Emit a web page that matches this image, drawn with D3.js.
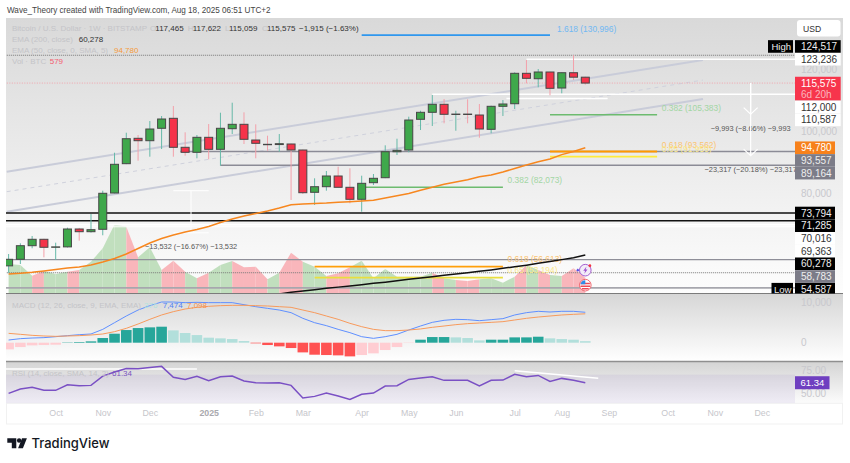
<!DOCTYPE html>
<html>
<head>
<meta charset="utf-8">
<script src="https://cdn.jsdelivr.net/npm/d3@7"></script>
<style>
  html, body { margin: 0; padding: 0; background: #fff; }
  svg { display: block; }
  text { font-family: "Liberation Sans", Arial, sans-serif; }
  .domain { display: none; }
  .tick line { display: none; }
</style>
</head>
<body>
<svg id="chart" width="850" height="463"></svg>
<script>
// Weekly candles, first bar Sep 9 2024, last bar Aug 18 2025
const firstWeek = new Date(Date.UTC(2024, 8, 9));
const lastWeek = new Date(Date.UTC(2025, 7, 18));

const opens = [56800, 58910, 63280, 65340, 62770, 62900, 68650, 67780, 68555, 80225, 89650, 97810, 97040, 101030, 104240, 94920, 93310, 98130, 94270, 100900, 102310, 97260, 95880, 95800, 95980, 94050, 80450, 82250, 85690, 82060, 78200, 83540, 85140, 93500, 94050, 103920, 106170, 108740, 105530, 105600, 105300, 100700, 108100, 108930, 118710, 116970, 119130, 113980, 118900, 117465];
const highs = [60610, 64050, 66400, 65500, 64250, 69070, 69000, 73470, 80960, 93180, 99610, 98870, 103370, 104980, 108200, 99740, 98870, 102410, 106040, 109260, 106170, 102310, 98650, 99190, 96100, 94200, 84950, 87300, 88680, 88170, 85790, 86330, 95560, 97680, 104760, 106680, 111730, 110450, 106680, 110350, 108840, 108300, 110120, 119030, 122980, 120090, 119200, 119000, 124517, 117622];
const lows = [54587, 57400, 62450, 59550, 58690, 62700, 64890, 67500, 66630, 80100, 89500, 90610, 91900, 94370, 91900, 92220, 91380, 91060, 89000, 99190, 95980, 91380, 93820, 93500, 77980, 79900, 76370, 80965, 82000, 76910, 74210, 82800, 85000, 92440, 93310, 100480, 101770, 102630, 100250, 102630, 98000, 99420, 104980, 107230, 115490, 114210, 111640, 112280, 116550, 115059];
const closes = [58910, 63280, 65340, 62770, 62900, 68650, 67780, 68430, 80130, 89450, 97680, 97040, 100800, 104020, 94920, 93310, 98130, 94270, 101030, 102310, 97490, 96200, 95800, 96075, 94050, 80320, 82250, 85690, 82060, 78200, 83340, 84950, 93500, 93950, 103690, 106170, 108740, 105530, 105600, 105500, 100800, 108100, 108840, 118710, 117100, 119130, 113890, 118900, 117465, 115575];

const ema50 = [54180, 54410, 54730, 55150, 55630, 56110, 56430, 57070, 58040, 59170, 60610, 62380, 64150, 65600, 66720, 67690, 68490, 69450, 70740, 71870, 72830, 73630, 74440, 75400, 76460, 76690, 76880, 77010, 77240, 77430, 77650, 77910, 78620, 79320, 80060, 81090, 82060, 83020, 83760, 84470, 85470, 86010, 86980, 88100, 89230, 90290, 91160, 92570, 93570, 94780];
// EMA 200 only comes into the visible range from bar 23 on
const ema200 = [47750, 48300, 48700, 49150, 49570, 49960, 50340, 50760, 51180, 51560, 51980, 52460, 52880, 53330, 53750, 54170, 54620, 55040, 55490, 56000, 56520, 57030, 57610, 58190, 58800, 59440, 60278];

const volumes = [1100, 1060, 660, 840, 720, 810, 870, 1190, 1700, 2600, 2520, 1360, 1740, 870, 1230, 810, 560, 770, 1060, 1220, 980, 1000, 520, 770, 1530, 1190, 1000, 650, 750, 980, 1230, 560, 910, 620, 620, 620, 770, 560, 490, 460, 520, 560, 390, 620, 1060, 870, 680, 650, 940, 579];

const macdLine = [660, 990, 1150, 1240, 1480, 1730, 1970, 2140, 3280, 4920, 6560, 8030, 9100, 10000, 10000, 9840, 9920, 9840, 9840, 9840, 9340, 8850, 8440, 8030, 7380, 5990, 4920, 4190, 3280, 2470, 1480, 1070, 1480, 2060, 3120, 4100, 5000, 5500, 5740, 5660, 5410, 5660, 5910, 6810, 7380, 7710, 7540, 7710, 7710, 7474];
const signalLine = [2300, 2060, 1810, 1650, 1560, 1650, 1730, 1890, 2140, 2710, 3530, 4590, 5740, 6810, 7630, 8280, 8690, 8940, 9100, 9180, 9180, 9100, 9020, 8850, 8690, 8030, 7380, 6560, 5740, 4760, 3940, 3280, 2960, 2960, 3120, 3370, 3780, 4100, 4430, 4680, 4840, 5000, 5170, 5580, 5990, 6310, 6560, 6810, 6970, 7098];
const macdHist = [-1640, -1070, -660, -570, -490, 80, 160, 330, 1150, 2210, 3110, 3600, 3770, 3930, 3030, 2380, 1880, 1230, 1070, 900, 410, -160, -570, -900, -1310, -2380, -2950, -3030, -3110, -3360, -3030, -2620, -1800, -1070, -80, 740, 1390, 1390, 1310, 1150, 570, 740, 740, 1310, 1310, 1470, 1070, 900, 740, 376];

const rsiValues = [49.9, 54.6, 56.4, 53.2, 53.2, 59.2, 58.2, 58.5, 68.5, 72.8, 76.7, 76.4, 77.8, 78.9, 67.1, 64.9, 68.2, 63.5, 67.8, 68.5, 63.2, 61.4, 61.0, 61.4, 58.5, 44.9, 46.7, 50.3, 47.1, 43.5, 48.9, 50.3, 57.8, 58.2, 64.9, 66.4, 67.8, 63.9, 63.9, 63.9, 57.8, 63.9, 64.2, 70.3, 67.8, 69.2, 62.8, 66.0, 63.9, 61.34];

// Axis labels
const monthTicks = ['2024-10-07', '2024-11-04', '2024-12-02', '2025-01-06', '2025-02-03', '2025-03-03', '2025-04-07', '2025-05-05', '2025-06-02', '2025-07-07', '2025-08-04', '2025-09-01', '2025-10-06', '2025-11-03', '2025-12-01'];
const monthLabels = ['Oct', 'Nov', 'Dec', '2025', 'Feb', 'Mar', 'Apr', 'May', 'Jun', 'Jul', 'Aug', 'Sep', 'Oct', 'Nov', 'Dec'];
const priceTicks = [120000, 100000, 80000];
const macdTicks = [10000, 0];
const rsiTicks = [75, 50];

// Price tags on the right axis
const tagValues = [124517, 123236, 115575, 112000, 110587, 94780, 93557, 89164, 73794, 71285, 70016, 69363, 60278, 58783, 54587];
const tagKinds = ['black', 'white', 'last', 'white', 'white', 'orange', 'grey', 'grey', 'black', 'black', 'white', 'white', 'black', 'grey', 'black'];

// Layout
const left = 6, plotRight = 795, outerRight = 843;
const priceTop = 18, priceBottom = 293.5, macdBottom = 361.5, rsiBottom = 403.3, axisBottom = 424;
const fmt = d3.format(',');

const svg = d3.select('#chart');
const defs = svg.append('defs');

const weekMs = 7 * 24 * 3600 * 1000;
const x = d3.scaleUtc().domain([firstWeek, lastWeek]).range([8.6, 585.3]);
const xw = i => x(new Date(+firstWeek + i * weekMs));
const indexes = d3.range(closes.length);

const yPrice = d3.scaleLinear().domain([80000, 120000]).range([193.7, 69.3]);
const yVol = d3.scaleLinear().domain([0, 2660]).range([293, 223]);
const yMacd = d3.scaleLinear().domain([0, 10000]).range([342.7, 302]);
const yRsi = d3.scaleLinear().domain([50, 75]).range([393.3, 370]);

// Pane backgrounds
function paneGradient(id, top, bottom) {
    const g = defs.append('linearGradient').attr('id', id).attr('x1', 0).attr('x2', 0).attr('y1', 0).attr('y2', 1);
    g.append('stop').attr('offset', 0).attr('stop-color', top);
    g.append('stop').attr('offset', 1).attr('stop-color', bottom);
}
paneGradient('bgPrice', '#d9d9d9', '#fdfdfd');
paneGradient('bgMacd', '#d6d6d6', '#ffffff');
paneGradient('bgRsi', '#d4d4d4', '#fcfcfc');

function pane(top, bottom, fill) {
    svg.append('rect').attr('x', left).attr('y', top).attr('width', outerRight - left).attr('height', bottom - top).attr('fill', fill);
}
pane(priceTop, priceBottom, 'url(#bgPrice)');
pane(priceBottom, macdBottom, 'url(#bgMacd)');
pane(macdBottom, rsiBottom, 'url(#bgRsi)');
svg.append('rect').attr('x', left + 0.5).attr('y', rsiBottom).attr('width', outerRight - left - 1).attr('height', axisBottom - rsiBottom)
    .attr('fill', '#fff').attr('stroke', '#f1f1f1');

function clip(id, top, bottom) {
    defs.append('clipPath').attr('id', id).append('rect')
        .attr('x', left).attr('y', top).attr('width', plotRight - left).attr('height', bottom - top);
}
clip('clipPrice', priceTop, priceBottom);
clip('clipMacd', priceBottom, macdBottom);
clip('clipRsi', macdBottom, rsiBottom);

const main = svg.append('g').attr('clip-path', 'url(#clipPrice)');

// Channel lines, as [bar, price] ends
function trend(from, to, color, width, dash) {
    main.append('line')
        .attr('x1', xw(from[0])).attr('y1', yPrice(from[1]))
        .attr('x2', xw(to[0])).attr('y2', yPrice(to[1]))
        .attr('stroke', color).attr('stroke-width', width).attr('stroke-dasharray', dash || null);
}
trend([-0.16, 87070], [59, 122980], '#c9ccd9', 2);
trend([-0.16, 80640], [59, 116550], '#cfd1dc', 1, '4 4');
trend([-0.16, 74210], [59, 110450], '#c9ccd9', 2);

function hLine(price, from, to, color, width, dash) {
    main.append('line')
        .attr('x1', xw(from)).attr('x2', xw(to))
        .attr('y1', yPrice(price)).attr('y2', yPrice(price))
        .attr('stroke', color).attr('stroke-width', width).attr('stroke-dasharray', dash || null);
}

// Volume as an area, each stretch coloured by the bar it runs into
const volArea = d3.area().x(d => xw(d)).y0(293.5).y1(d => yVol(volumes[d]));
indexes.slice(1).forEach(i => {
    main.append('path')
        .attr('d', volArea([i - 1, i]))
        .attr('fill', closes[i] >= opens[i] ? '#c1dfbe' : '#f9b6bb');
});

// Horizontal levels
const end = 67, start = -1;
hLine(124517, start, end, '#777', 1, '1 1');
hLine(115575, start, end, '#f2a3ab', 1, '1 1.5');
hLine(93557, 14.6, end, '#8b8b96', 1.5);
hLine(89164, 18, end, '#8b8b96', 1.5);
hLine(73794, start, end, '#111', 1.6);
hLine(71285, start, end, '#111', 1.6);
hLine(70016, start, end, '#fff', 1.5);
hLine(69363, start, end, '#fff', 1);
hLine(58783, start, end, '#8f8f99', 1.3);
hLine(54587, start, end, '#777', 1, '1 1');
hLine(49750, start, end, '#a7a7ae', 1.8);

hLine(123236, 44, end, '#fff', 1.6);
hLine(112000, 36, end, '#fff', 1.6);
hLine(110587, 42.3, 50.9, '#fff', 1.4);

// Fibonacci levels
hLine(130996, 30, 46, '#2f97ee', 1.6);
hLine(105383, 46, 55.1, '#6dbb6f', 1.6);
hLine(93562, 46, 55.1, '#ff9800', 1.8);
hLine(91900, 46, 55.1, '#ffeb3b', 1.8);
hLine(82073, 30, 42, '#6dbb6f', 1.6);
hLine(56530, 26, 42, '#ff9f0a', 1.8);
hLine(53000, 26, 42, '#e9df3f', 1.8);

const noteLayer = main.append('g');
function note(txt, i, price, dy, color, size, anchor) {
    noteLayer.append('text')
        .attr('x', xw(i)).attr('y', yPrice(price) + dy)
        .attr('fill', color).attr('font-size', size)
        .attr('text-anchor', anchor || 'start')
        .text(txt);
}
note('1.618 (130,996)', 46.6, 130996, -2.8, '#72b9f3', 8.4);
note('0.382 (105,383)', 55.5, 105383, -4, '#a3d6a4', 8.4);
note('0.618 (93,562)', 55.5, 93562, -4, '#fbc471', 8.4);
note('0.65 (91,959)', 55.5, 91900, -4.5, '#fbe98a', 8.4);
note('0.382 (82,073)', 42.4, 82073, -4.5, '#a3d6a4', 8.4);
note('0.618 (56,613)', 42.4, 56530, -5, '#fbc471', 8.4);
note('0.65 (53,194)', 42.4, 53000, -5, '#fbe98a', 8.4);

// Measure tool at the Dec/Jan dip
const bracket = main.append('g').attr('stroke', '#fff').attr('fill', 'none').attr('stroke-width', 1);
[80960, 67430].forEach(p => {
    bracket.append('line').attr('x1', xw(14)).attr('x2', xw(17)).attr('y1', yPrice(p)).attr('y2', yPrice(p));
});
bracket.append('line').attr('x1', xw(15.5)).attr('x2', xw(15.5)).attr('y1', yPrice(80960)).attr('y2', yPrice(67430));
note('\u221213,532 (\u221216.67%) \u221213,532', 15.5, 67430, 16.5, '#555', 7.4, 'middle');

// Wicks and bodies
const candles = main.append('g');
candles.selectAll('line')
    .data(indexes)
    .join('line')
    .attr('x1', d => xw(d)).attr('x2', d => xw(d))
    .attr('y1', d => yPrice(highs[d])).attr('y2', d => yPrice(lows[d]))
    .attr('stroke', d => closes[d] >= opens[d] ? '#66b9a8' : '#f3a0aa')
    .attr('stroke-width', 1);
candles.selectAll('rect')
    .data(indexes)
    .join('rect')
    .attr('x', d => xw(d) - 4).attr('width', 8)
    .attr('y', d => yPrice(Math.max(opens[d], closes[d])))
    .attr('height', d => Math.max(0.4, Math.abs(yPrice(opens[d]) - yPrice(closes[d]))))
    .attr('fill', d => closes[d] >= opens[d] ? '#3fa84b' : '#f5334a')
    .attr('stroke', '#474747').attr('stroke-width', 1);

// Moving averages
const emaLine = d3.line().x(d => xw(d.i)).y(d => yPrice(d.v)).curve(d3.curveLinear);
main.append('path')
    .attr('d', emaLine(ema50.map((v, i) => ({ i, v }))))
    .attr('fill', 'none').attr('stroke', '#f7871f').attr('stroke-width', 1.5);
main.append('path')
    .attr('d', emaLine(ema200.map((v, i) => ({ i: i + 23, v }))))
    .attr('fill', 'none').attr('stroke', '#111').attr('stroke-width', 1.5);

// Projected downside arrows from the last close
const arrows = main.append('g').attr('stroke', '#fff').attr('fill', 'none').attr('stroke-width', 1.2);
[105582, 92258].forEach(p => {
    const ax = xw(63.05), ay = yPrice(p);
    arrows.append('line').attr('x1', ax).attr('x2', ax).attr('y1', yPrice(115575)).attr('y2', ay);
    arrows.append('path').attr('d', d3.line()([[ax - 7, ay - 6.5], [ax, ay], [ax + 7, ay - 6.5]]));
});
note('\u22129,993 (\u22128.66%) \u22129,993', 63.05, 105582, 17, '#555', 7.4, 'middle');
note('\u221223,317 (\u221220.18%) \u221223,317', 63.05, 92258, 16.5, '#555', 7.4, 'middle');

// Event markers at the last bar
const mx = xw(49);
const bolt = svg.append('g').attr('transform', `translate(${mx},${yPrice(53000) - 7.5})`);
bolt.append('circle').attr('r', 5.8).attr('fill', '#f2ecf8').attr('stroke', '#a55fd0').attr('stroke-width', 1);
bolt.append('path').attr('d', 'M1.2,-3.6 L-2,0.6 L-0.2,0.6 L-1,3.6 L2.2,-0.6 L0.3,-0.6 Z').attr('fill', '#9c4fd0');
bolt.append('circle').attr('cx', 4.6).attr('cy', -4.4).attr('r', 1.4).attr('fill', '#f23645');
bolt.append('path').attr('d', 'M-7.5,-1.6 L-5.9,0 L-7.5,1.6 L-9.1,0 Z').attr('fill', '#5a50e0');
const flag = svg.append('g').attr('transform', `translate(${mx},${yPrice(53000) + 7.5})`);
flag.append('circle').attr('r', 5.8).attr('fill', '#fff').attr('stroke', '#f0656f').attr('stroke-width', 1);
flag.append('path').attr('d', 'M-4.6,-1.6 H4.6 M-4.8,1.2 H4.8 M-3.4,3.6 H3.4').attr('stroke', '#ee4a55').attr('stroke-width', 1.5);
flag.append('path').attr('d', 'M-4.8,-1 A5,5 0 0 1 0,-4.8 V-1 Z').attr('fill', '#2f8be6');

// MACD pane
const macdPane = svg.append('g').attr('clip-path', 'url(#clipMacd)');
macdPane.selectAll('rect')
    .data(indexes)
    .join('rect')
    .attr('x', d => xw(d) - 5.3).attr('width', 10.6)
    .attr('y', d => Math.min(yMacd(0), yMacd(macdHist[d])))
    .attr('height', d => Math.abs(yMacd(0) - yMacd(macdHist[d])))
    .attr('fill', d => {
        const rising = d === 0 || macdHist[d] >= macdHist[d - 1];
        if (macdHist[d] >= 0) return rising ? '#26a69a' : '#b2dfdb';
        return rising ? '#ffcdd2' : '#ff5252';
    });
const macdPath = d3.line().x((d, i) => xw(i)).y(d => yMacd(d));
macdPane.append('path').attr('d', macdPath(macdLine)).attr('fill', 'none').attr('stroke', '#5f8fff').attr('stroke-width', 1);
macdPane.append('path').attr('d', macdPath(signalLine)).attr('fill', 'none').attr('stroke', '#f79a5c').attr('stroke-width', 1);

// RSI pane
const rsiPane = svg.append('g').attr('clip-path', 'url(#clipRsi)');
rsiPane.append('rect')
    .attr('x', left).attr('width', plotRight - left)
    .attr('y', yRsi(70)).attr('height', rsiBottom - yRsi(70))
    .attr('fill', '#7e57c2').attr('opacity', 0.09);
const rsiPath = d3.line().x((d, i) => xw(i)).y(d => yRsi(d));
rsiPane.append('path').attr('d', d3.line()([[xw(-1), yRsi(76.1)], [xw(16), yRsi(76.1)]])).attr('stroke', '#fff').attr('stroke-width', 1.6);
rsiPane.append('path').attr('d', d3.line()([[xw(43), yRsi(74.2)], [xw(50.1), yRsi(66.2)]])).attr('stroke', '#fff').attr('stroke-width', 1.4);
rsiPane.append('path').attr('d', rsiPath(rsiValues)).attr('fill', 'none').attr('stroke', '#7a50c4').attr('stroke-width', 1.5);

// Pane separators
[[priceBottom, '#7b7b7b', 1.2], [macdBottom, '#8f8f8f', 1.6]].forEach(([y, c, w]) => {
    svg.append('line').attr('x1', left).attr('x2', outerRight).attr('y1', y).attr('y2', y).attr('stroke', c).attr('stroke-width', w);
});

// Axes
function styleAxis(g, color, size) {
    g.selectAll('text').attr('fill', color).attr('font-size', size);
}
svg.append('g').attr('transform', `translate(795,0)`)
    .call(d3.axisRight(yPrice).tickValues(priceTicks).tickFormat(fmt).tickSize(0).tickPadding(6))
    .call(g => styleAxis(g, '#c8c8cd', 10));
svg.append('g').attr('transform', `translate(795,0)`)
    .call(d3.axisRight(yMacd).tickValues(macdTicks).tickFormat(fmt).tickSize(0).tickPadding(6))
    .call(g => styleAxis(g, '#c8c8cd', 10));
svg.append('g').attr('transform', `translate(795,0)`)
    .call(d3.axisRight(yRsi).tickValues(rsiTicks).tickFormat(d3.format('.2f')).tickSize(0).tickPadding(6))
    .call(g => styleAxis(g, '#c8c8cd', 10));
svg.append('g').attr('transform', `translate(0,${rsiBottom})`)
    .call(d3.axisBottom(x)
        .tickValues(monthTicks.map(d => new Date(d + 'T00:00:00Z')))
        .tickFormat((d, i) => monthLabels[i])
        .tickSize(0).tickPadding(6))
    .call(g => styleAxis(g, '#c6c6cb', 8.8))
    .call(g => g.selectAll('text').filter((d, i) => monthLabels[i] === '2025').attr('fill', '#a9a9ae').attr('font-weight', 'bold'));

// Right-hand tags, pushed down so that they never overlap
const tagStyle = {
    black: { fill: '#000', text: '#eee', w: 40 },
    white: { fill: '#fff', text: '#333', w: 45.7 },
    last: { fill: '#f7354c', text: '#fff', w: 45.7 },
    orange: { fill: '#f7811b', text: '#fff', w: 40 },
    grey: { fill: '#7c7c88', text: '#eee', w: 40 }
};
defs.append('clipPath').attr('id', 'clipTags').append('rect').attr('x', 760).attr('y', priceTop).attr('width', 90).attr('height', priceBottom - priceTop);
const tagLayer = svg.append('g').attr('clip-path', 'url(#clipTags)');
const tagGap = 12.7;
let lastTag = -Infinity;
tagValues.forEach((v, i) => {
    const s = tagStyle[tagKinds[i]];
    const isHigh = v === 124517;
    const cy = isHigh ? yPrice(v) - 8.8 : Math.max(yPrice(v), lastTag + tagGap);
    const isLast = tagKinds[i] === 'last';
    const w = (isHigh || (v >= 100000)) ? 45.7 : (v < 80000 ? 40 : s.w);
    lastTag = isLast ? cy + 11.4 : cy;
    tagLayer.append('rect').attr('x', 795).attr('y', cy - 6.3).attr('width', w)
        .attr('height', isLast ? 23.6 : 12.6).attr('fill', s.fill);
    tagLayer.append('text').attr('x', 801).attr('y', cy + 3.5).attr('fill', s.text).attr('font-size', 10).text(fmt(v));
    if (isLast) {
        tagLayer.append('text').attr('x', 801).attr('y', cy + 14.6).attr('fill', '#fbb6be').attr('font-size', 10).text('6d 20h');
    }
    if (isHigh || v === 54587) {
        tagLayer.append('rect').attr('x', isHigh ? 768 : 771.5).attr('y', cy - 6.3).attr('width', isHigh ? 25 : 21.5).attr('height', 12.6).attr('fill', '#000');
        tagLayer.append('text').attr('x', isHigh ? 771.5 : 774).attr('y', cy + 3.5).attr('fill', '#eee').attr('font-size', 9.5).text(isHigh ? 'High' : 'Low');
    }
});

// USD button
svg.append('rect').attr('x', 797).attr('y', 20).attr('width', 43.5).attr('height', 16.5).attr('rx', 3).attr('fill', '#fff');
svg.append('text').attr('x', 803).attr('y', 31.5).attr('fill', '#333').attr('font-size', 8.6).text('USD');

// Legend rows
function label(txt, lx, ly, color, size, weight) {
    return svg.append('text').attr('x', lx).attr('y', ly).attr('fill', color)
        .attr('font-size', size || 8).attr('font-weight', weight || null).text(txt);
}
const faint = '#c4c4c8';
label('Wave_Theory created with TradingView.com, Aug 18, 2025 06:51 UTC+2', 7, 13, '#444', 8.15);
label('Bitcoin / U.S. Dollar \u00b7 1W \u00b7 BITSTAMP', 12, 30.7, faint);
[['O', 150, '117,465', 155.3], ['H', 187.7, '117,622', 192.7], ['L', 225, '115,059', 229], ['C', 262, '115,575', 267]].forEach(r => {
    label(r[0], r[1], 30.7, faint);
    label(r[2], r[3], 30.7, '#333');
});
label('\u22121,915 (\u22121.63%)', 299, 30.7, '#333');
label('EMA (200, close)', 12, 41.7, faint);
label('60,278', 78.7, 41.7, '#333');
label('EMA (50, close, 0, SMA, 5)', 12, 52.7, faint);
label('94,780', 114, 52.7, '#f59a3c');
label('Vol \u00b7 BTC', 12, 64, faint);
label('579', 49.7, 64, '#f4606f');

label('MACD (12, 26, close, 9, EMA, EMA)', 12, 307.7, faint);
label('376', 144, 307.7, '#b5e2dd');
label('7,474', 162.7, 307.7, '#4f7ff5');
label('7,098', 187, 307.7, '#f7924d');
label('RSI (14, close, SMA, 14, 2)', 12, 375.7, faint);
label('61.34', 112, 375.7, '#7a55c0');

// RSI tag
svg.append('rect').attr('x', 795).attr('y', yRsi(61.34) - 6.5).attr('width', 34.5).attr('height', 13).attr('fill', '#6f3fc0');
label('61.34', 800.5, yRsi(61.34) + 3.4, '#fff', 9.5);

// TradingView mark
const logo = svg.append('g').attr('transform', 'translate(7.3,438.3)').attr('fill', '#131722');
logo.append('path').attr('d', 'M0,0 H9 V10 H4.5 V4.5 H0 Z');
logo.append('circle').attr('cx', 11.8).attr('cy', 2.2).attr('r', 2.2);
logo.append('path').attr('d', 'M14.7,0 H19.6 L15.6,10 H10.8 Z');
svg.append('text').attr('x', 31.5).attr('y', 448.4)
    .attr('fill', '#131722').attr('font-size', 13).attr('font-weight', 500)
    .style('font-family', 'Inter, sans-serif').text('TradingView');
</script>
</body>
</html>
